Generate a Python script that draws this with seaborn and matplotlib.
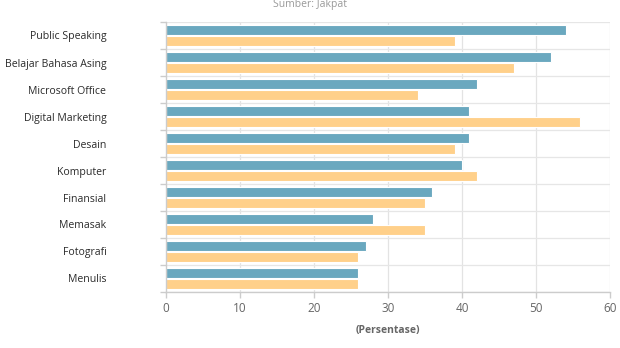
import matplotlib
matplotlib.use("Agg")
import matplotlib.pyplot as plt
import seaborn as sns
import pandas as pd
from matplotlib.ticker import FixedLocator

categories = ["Public Speaking", "Belajar Bahasa Asing", "Microsoft Office", "Digital Marketing",
              "Desain", "Komputer", "Finansial", "Memasak", "Fotografi", "Menulis"]
series_a = [54, 52, 42, 41, 41, 40, 36, 28, 27, 26]
series_b = [39, 47, 34, 56, 39, 42, 35, 35, 26, 26]
series_names = ["Seri 1", "Seri 2"]
x_ticks = [0, 10, 20, 30, 40, 50, 60]

df = pd.DataFrame({
    "Kategori": categories * 2,
    "Nilai": series_a + series_b,
    "Seri": [series_names[0]] * len(categories) + [series_names[1]] * len(categories),
})

sns.set_theme(style="white")
plt.rcParams["font.family"] = ["Open Sans", "DejaVu Sans"]

fig = plt.figure(figsize=(6.2, 3.48), dpi=100)
ax = fig.add_axes([166 / 620, 1 - 292 / 348, (610 - 166) / 620, (292 - 22) / 348])

sns.barplot(data=df, y="Kategori", x="Nilai", hue="Seri", order=categories,
            palette=["#6aa8bf", "#ffd08a"], saturation=1, width=0.8, gap=0.08,
            edgecolor="white", linewidth=0.8, legend=False, ax=ax)

ax.set_xlim(0, 60)
ax.set_ylim(len(categories) - 0.5, -0.5)
ax.set_xticks(x_ticks)
ax.set_xticklabels([str(t) for t in x_ticks])
ax.yaxis.set_minor_locator(FixedLocator([i - 0.5 for i in range(len(categories) + 1)]))

ax.grid(False)
ax.set_axisbelow(True)
for t in x_ticks[1:]:
    ax.axvline(t, color="#e3e3e3", linewidth=0.9, zorder=0)
for i in range(len(categories) + 1):
    ax.axhline(i - 0.5, color="#e6e6e6", linewidth=0.9, zorder=0)

for s in ["top", "right"]:
    ax.spines[s].set_visible(False)
ax.spines["left"].set_color("#cccccc")
ax.spines["left"].set_linewidth(1.0)
ax.spines["bottom"].set_color("#cccccc")
ax.spines["bottom"].set_linewidth(1.0)

ax.tick_params(axis="y", which="major", length=0, pad=43, labelsize=7.6, labelcolor="#2b2b2b")
ax.tick_params(axis="y", which="minor", length=4.5, color="#cccccc", width=1.0, left=True)
ax.tick_params(axis="x", which="major", length=4, color="#cccccc", width=1.0, pad=3.5,
               labelsize=8.5, labelcolor="#666666", bottom=True)

ax.set_ylabel("")
ax.set_xlabel("(Persentase)", fontsize=7.5, fontweight="bold", color="#666666", labelpad=7)

fig.text(310 / 620, 1 - 4 / 348, "Sumber: Jakpat", ha="center", va="center",
         fontsize=7.5, color="#999999")

fig.savefig("out.png", dpi=100)
